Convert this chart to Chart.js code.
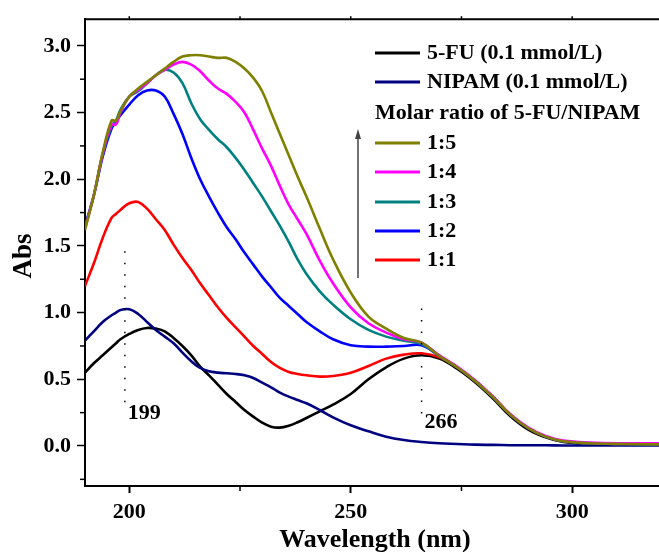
<!DOCTYPE html>
<html>
<head>
<meta charset="utf-8">
<script src="https://cdn.jsdelivr.net/npm/chart.js@4.4.0/dist/chart.umd.min.js"></script>
<style>
html, body { margin: 0; padding: 0; background: #fff; overflow: hidden; }
.wrap { position: relative; width: 659px; height: 552px; }
</style>
</head>
<body>
<div class="wrap"><canvas id="myChart"></canvas></div>
<script>
// wavelength (nm)
const wavelength = [190,192,194,196,197,198,200,202,204,206,208,210,212,214,216,218,220,222,224,226,228,230,232,234,236,238,240,243,246,250,254,258,262,266,270,274,278,282,286,290,294,298,304,312,320];

const fu    = [0.55,0.62,0.68,0.74,0.77,0.80,0.84,0.87,0.885,0.88,0.86,0.81,0.75,0.68,0.595,0.53,0.46,0.39,0.33,0.27,0.22,0.175,0.145,0.138,0.152,0.178,0.21,0.26,0.31,0.39,0.50,0.59,0.655,0.68,0.655,0.58,0.48,0.36,0.225,0.125,0.065,0.03,0.015,0.01,0.01];
const nipam = [0.79,0.86,0.93,0.98,1.00,1.02,1.025,0.99,0.93,0.87,0.82,0.77,0.70,0.635,0.585,0.56,0.55,0.545,0.54,0.53,0.51,0.475,0.44,0.40,0.37,0.345,0.32,0.27,0.215,0.155,0.11,0.07,0.045,0.03,0.02,0.015,0.01,0.008,0.006,0.005,0.005,0.004,0.004,0.004,0.004];
const r11   = [1.20,1.37,1.56,1.71,1.74,1.77,1.82,1.83,1.78,1.70,1.62,1.51,1.41,1.32,1.22,1.13,1.04,0.96,0.89,0.82,0.75,0.69,0.63,0.585,0.555,0.54,0.53,0.52,0.525,0.55,0.60,0.655,0.685,0.695,0.665,0.59,0.49,0.37,0.235,0.135,0.07,0.035,0.02,0.015,0.012];
const r12   = [1.65,1.88,2.17,2.38,2.43,2.48,2.56,2.63,2.665,2.665,2.62,2.49,2.34,2.16,2.00,1.87,1.75,1.64,1.55,1.45,1.36,1.27,1.19,1.11,1.05,0.99,0.93,0.86,0.80,0.755,0.745,0.745,0.75,0.755,0.675,0.59,0.49,0.37,0.235,0.135,0.07,0.035,0.02,0.015,0.012];
const r13   = [1.64,1.88,2.19,2.40,2.44,2.52,2.62,2.66,2.72,2.78,2.82,2.80,2.72,2.57,2.45,2.37,2.30,2.24,2.16,2.07,1.97,1.87,1.76,1.65,1.53,1.40,1.29,1.16,1.06,0.95,0.87,0.82,0.79,0.765,0.675,0.59,0.49,0.37,0.235,0.135,0.07,0.035,0.02,0.015,0.012];
const r14   = [1.63,1.88,2.19,2.41,2.41,2.50,2.62,2.67,2.72,2.78,2.82,2.86,2.88,2.86,2.81,2.74,2.68,2.64,2.58,2.50,2.37,2.23,2.10,1.95,1.81,1.70,1.59,1.39,1.22,1.04,0.92,0.85,0.80,0.775,0.68,0.595,0.495,0.375,0.24,0.14,0.075,0.04,0.025,0.02,0.02];
const r15   = [1.62,1.88,2.20,2.44,2.44,2.51,2.62,2.68,2.73,2.78,2.83,2.88,2.92,2.93,2.93,2.92,2.91,2.91,2.88,2.83,2.76,2.66,2.50,2.34,2.18,2.02,1.87,1.63,1.40,1.15,0.97,0.88,0.81,0.775,0.675,0.59,0.49,0.37,0.235,0.135,0.07,0.035,0.02,0.015,0.012];

const xTicks = [200, 225, 250, 275, 300];
const yTicks = [-0.25, 0, 0.25, 0.5, 0.75, 1.0, 1.25, 1.5, 1.75, 2.0, 2.25, 2.5, 2.75, 3.0];

// dotted peak markers: wavelength, top and bottom of the dotted line (Abs), label
const peakWl   = [199, 266];
const peakTop  = [1.46, 1.03];
const peakBot  = [0.30, 0.23];
const peakText = ['199', '266'];

const FONT = '"Liberation Serif", "Times New Roman", serif';

function pts(arr) { return wavelength.map((w, i) => ({x: w, y: arr[i]})); }
function isMajorX(v) { return v % 50 === 0; }
function isMajorY(v) { return Math.abs(v * 2 - Math.round(v * 2)) < 1e-6; }

const series = [
	{label: '5-FU (0.1 mmol/L)',  data: fu,    color: '#000000', order: 7},
	{label: 'NIPAM (0.1 mmol/L)', data: nipam, color: '#000080', order: 6},
	{label: '1:1', data: r11, color: '#ff0000', order: 5},
	{label: '1:2', data: r12, color: '#0000ff', order: 4},
	{label: '1:3', data: r13, color: '#008080', order: 3},
	{label: '1:4', data: r14, color: '#ff00ff', order: 2},
	{label: '1:5', data: r15, color: '#808000', order: 1}
];

const extras = {
	id: 'extras',
	afterDraw(chart) {
		const ctx = chart.ctx, a = chart.chartArea, x = chart.scales.x, y = chart.scales.y;
		ctx.save();
		ctx.strokeStyle = '#000';
		// top frame
		ctx.lineWidth = 2;
		ctx.beginPath(); ctx.moveTo(a.left - 1, a.top); ctx.lineTo(a.right, a.top); ctx.stroke();
		// top ticks and short minor ticks
		ctx.lineWidth = 1.5;
		xTicks.forEach(v => {
			const px = x.getPixelForValue(v);
			ctx.beginPath(); ctx.moveTo(px, a.top); ctx.lineTo(px, a.top - 3); ctx.stroke();
			if (!isMajorX(v)) {
				ctx.beginPath(); ctx.moveTo(px, a.bottom); ctx.lineTo(px, a.bottom + 5); ctx.stroke();
			}
		});
		yTicks.forEach(v => {
			if (isMajorY(v)) return;
			const py = y.getPixelForValue(v);
			ctx.beginPath(); ctx.moveTo(a.left, py); ctx.lineTo(a.left - 5, py); ctx.stroke();
		});
		// dotted markers
		ctx.setLineDash([1.5, 10]);
		ctx.lineWidth = 1.5;
		ctx.font = 'bold 22px ' + FONT;
		ctx.fillStyle = '#000';
		ctx.textBaseline = 'middle';
		peakWl.forEach((w, i) => {
			const px = x.getPixelForValue(w);
			ctx.beginPath();
			ctx.moveTo(px, y.getPixelForValue(peakTop[i]));
			ctx.lineTo(px, y.getPixelForValue(peakBot[i]));
			ctx.stroke();
			ctx.fillText(peakText[i], px + 3, y.getPixelForValue(peakBot[i]) + 7);
		});
		ctx.setLineDash([]);
		// arrow
		ctx.strokeStyle = '#444'; ctx.fillStyle = '#444'; ctx.lineWidth = 1.5;
		ctx.beginPath(); ctx.moveTo(358, 278); ctx.lineTo(358, 136); ctx.stroke();
		ctx.beginPath(); ctx.moveTo(358, 129); ctx.lineTo(355, 139); ctx.lineTo(361, 139); ctx.closePath(); ctx.fill();
		// legend
		ctx.font = 'bold 22px ' + FONT;
		ctx.textBaseline = 'middle';
		const rows = [
			[0, 53], [1, 82], [null, 113], [6, 143], [5, 172], [4, 202], [3, 231], [2, 260]
		];
		rows.forEach(r => {
			ctx.fillStyle = '#000';
			if (r[0] === null) {
				ctx.fillText('Molar ratio of 5-FU/NIPAM', 375, r[1]);
				return;
			}
			const s = series[r[0]];
			ctx.strokeStyle = s.color; ctx.lineWidth = 3;
			ctx.beginPath(); ctx.moveTo(375, r[1]); ctx.lineTo(420, r[1]); ctx.stroke();
			ctx.fillText(s.label, 427, r[1]);
		});
		// axis titles
		ctx.fillStyle = '#000';
		ctx.font = 'bold 26px ' + FONT;
		ctx.textAlign = 'center';
		ctx.textBaseline = 'alphabetic';
		ctx.fillText('Wavelength (nm)', 375, 547);
		ctx.translate(31, 256);
		ctx.rotate(-Math.PI / 2);
		ctx.font = 'bold 27px ' + FONT;
		ctx.fillText('Abs', 0, 0);
		ctx.restore();
	}
};

const ctx = document.getElementById('myChart').getContext('2d');
const myChart = new Chart(ctx, {
	type: 'line',
	data: {
		datasets: series.map(s => ({
			label: s.label,
			data: pts(s.data),
			borderColor: s.color,
			backgroundColor: s.color,
			borderWidth: 2.6,
			pointRadius: 0,
			tension: 0.4,
			order: s.order
		}))
	},
	options: {
		responsive: true,
		maintainAspectRatio: false,
		animation: false,
		layout: {padding: {top: 17, right: 0, left: 0, bottom: 0}},
		plugins: {legend: {display: false}, tooltip: {enabled: false}},
		scales: {
			x: {
				type: 'linear',
				min: 190,
				max: 319.6,
				afterBuildTicks: s => { s.ticks = xTicks.map(v => ({value: v})); },
				afterFit: s => { s.height = 66; },
				ticks: {
					callback: v => (isMajorX(v) ? String(v) : ''),
					font: {family: FONT, size: 22, weight: 'bold'},
					color: '#000',
					padding: 6,
					maxRotation: 0
				},
				grid: {
					drawOnChartArea: false,
					tickLength: 7,
					tickColor: c => (c.tick && isMajorX(c.tick.value) ? '#000' : 'rgba(0,0,0,0)'),
					tickWidth: 2
				},
				border: {color: '#000', width: 2}
			},
			y: {
				min: -0.3,
				max: 3.2,
				afterBuildTicks: s => { s.ticks = yTicks.map(v => ({value: v})); },
				afterFit: s => { s.width = 85; },
				ticks: {
					callback: v => (isMajorY(v) ? v.toFixed(1) : ''),
					font: {family: FONT, size: 22, weight: 'bold'},
					color: '#000',
					padding: 6
				},
				grid: {
					drawOnChartArea: false,
					tickLength: 8,
					tickColor: c => (c.tick && isMajorY(c.tick.value) ? '#000' : 'rgba(0,0,0,0)'),
					tickWidth: 1.5
				},
				border: {color: '#000', width: 2}
			}
		}
	},
	plugins: [extras]
});
</script>
</body>
</html>
